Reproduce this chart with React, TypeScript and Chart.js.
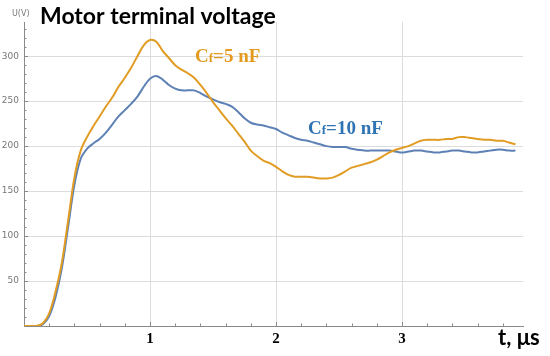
import React, { useEffect, useRef } from "react";
import { Chart, registerables } from "chart.js";

Chart.register(...registerables);

const timeUs = [
  0, 0.1, 0.15, 0.2, 0.25, 0.3, 0.35, 0.4, 0.45, 0.5, 0.55, 0.6, 0.65, 0.7, 0.75, 0.8, 0.85, 0.9, 0.95,
  1.0, 1.05, 1.1, 1.15, 1.2, 1.25, 1.3, 1.35, 1.4, 1.45, 1.5, 1.55, 1.6, 1.65, 1.7, 1.75, 1.8, 1.85, 1.9, 1.95,
  2.0, 2.05, 2.1, 2.15, 2.2, 2.25, 2.3, 2.35, 2.4, 2.45, 2.5, 2.55, 2.6, 2.65, 2.7, 2.75, 2.8, 2.85, 2.9, 2.95,
  3.0, 3.05, 3.1, 3.15, 3.2, 3.25, 3.3, 3.35, 3.4, 3.45, 3.5, 3.55, 3.6, 3.65, 3.7, 3.75, 3.8, 3.85, 3.9,
];

const cf5nF = [
  0, 0, 3, 14, 38, 70, 117, 165, 195, 210, 222, 233, 244, 254, 266, 276, 287, 300, 312,
  318, 316, 306, 298, 290, 285, 281, 276, 268, 259, 249, 240, 231, 223, 214, 205, 195, 189, 184, 181,
  177, 172, 168, 166, 166, 166, 165, 164, 164, 165, 168, 172, 176, 178, 180, 182, 185, 189, 193, 196,
  198, 200, 203, 206, 207, 207, 207, 208, 208, 210, 210, 209, 208, 207, 207, 206, 206, 204, 202,
];

const cf10nF = [
  0, 0, 2, 11, 32, 64, 110, 157, 186, 197, 203, 208, 215, 224, 233, 240, 247, 255, 266,
  275, 278, 274, 268, 264, 262, 262, 262, 259, 255, 252, 249, 247, 244, 238, 231, 226, 224, 223, 221,
  219, 215, 212, 209, 207, 206, 204, 202, 200, 199, 199, 199, 197, 196, 195, 195, 195, 195, 195, 194,
  193, 194, 195, 195, 194, 193, 193, 194, 195, 195, 194, 193, 193, 194, 195, 196, 196, 195, 195,
];

const yTickValues = [50, 100, 150, 200, 250, 300];
const xTickValues = [1, 2, 3];

const ORANGE = "#E19C24";
const BLUE = "#5E81B5";

const decorPlugin = {
  id: "decor",
  afterDraw(chart: any) {
    const ctx = chart.ctx;
    const xs = chart.scales.x;
    const ys = chart.scales.y;
    const area = chart.chartArea;
    ctx.save();
    ctx.strokeStyle = "#8a8a8a";
    ctx.lineWidth = 1;
    for (let v = 10; v <= 330; v += 10) {
      const py = Math.round(ys.getPixelForValue(v)) + 0.5;
      const major = v % 50 === 0;
      ctx.beginPath();
      ctx.moveTo(area.left, py);
      ctx.lineTo(area.left + (major ? 4 : 2.5), py);
      ctx.stroke();
    }
    for (let i = 1; i <= 19; i++) {
      const v = i * 0.2;
      const px = Math.round(xs.getPixelForValue(v)) + 0.5;
      const major = i % 5 === 0;
      ctx.beginPath();
      ctx.moveTo(px, area.bottom);
      ctx.lineTo(px, area.bottom - (major ? 4 : 2.5));
      ctx.stroke();
    }
    ctx.fillStyle = "#000";
    ctx.textBaseline = "alphabetic";
    ctx.textAlign = "left";
    ctx.font = "bold 23px Lato";
    ctx.fillText("Motor terminal voltage", 40, 24);
    ctx.fillStyle = "#777";
    ctx.font = "8px 'DejaVu Sans'";
    ctx.fillText("U(V)", 12, 16);
    ctx.fillStyle = "#000";
    ctx.font = "bold 22px Lato";
    ctx.fillText("t, \u03bcs", 498, 345);
    const drawCf = (x: number, y: number, rest: string, color: string) => {
      ctx.fillStyle = color;
      ctx.font = "bold 19px 'Liberation Serif'";
      ctx.fillText("C", x, y);
      let w = ctx.measureText("C").width;
      ctx.font = "bold 13px 'Liberation Serif'";
      ctx.fillText("f", x + w, y);
      w += ctx.measureText("f").width;
      ctx.font = "bold 19px 'Liberation Serif'";
      ctx.fillText(rest, x + w, y);
    };
    drawCf(195, 62, "=5 nF", "#E39A1E");
    drawCf(308, 134, "=10 nF", "#2E74B5");
    ctx.restore();
  },
};

export default function App() {
  const ref = useRef<HTMLCanvasElement | null>(null);
  useEffect(() => {
    document.body.style.margin = "0";
    const canvas = ref.current!;
    const chart = new Chart(canvas, {
      type: "line",
      data: {
        datasets: [
          {
            label: "Cf=5 nF",
            data: timeUs.map((t, i) => ({ x: t, y: cf5nF[i] })),
            borderColor: ORANGE,
            borderWidth: 2,
            pointRadius: 0,
            tension: 0.35,
            fill: false,
          },
          {
            label: "Cf=10 nF",
            data: timeUs.map((t, i) => ({ x: t, y: cf10nF[i] })),
            borderColor: BLUE,
            borderWidth: 2,
            pointRadius: 0,
            tension: 0.35,
            fill: false,
          },
        ],
      },
      options: {
        responsive: false,
        animation: false,
        layout: { padding: { top: 22, right: 27, left: 0, bottom: 0 } },
        plugins: { legend: { display: false }, tooltip: { enabled: false }, title: { display: false } },
        scales: {
          x: {
            type: "linear",
            min: 0,
            max: 3.96,
            afterBuildTicks: (s: any) => {
              s.ticks = [0, ...xTickValues].map((v) => ({ value: v }));
            },
            afterFit: (s: any) => {
              s.height = 30;
            },
            ticks: {
              autoSkip: false,
              maxRotation: 0,
              padding: 4,
              color: "#000",
              font: { family: "'Liberation Serif'", size: 15, weight: "bold" },
              callback: (v: any) => (v === 0 ? "" : String(v)),
            },
            grid: {
              drawTicks: false,
              color: (c: any) => (c.tick && c.tick.value > 0 ? "#dcdcdc" : "rgba(0,0,0,0)"),
              lineWidth: 1,
            },
            border: { color: "#8a8a8a", width: 1 },
          },
          y: {
            type: "linear",
            min: 0,
            max: 338,
            afterBuildTicks: (s: any) => {
              s.ticks = [0, ...yTickValues].map((v) => ({ value: v }));
            },
            afterFit: (s: any) => {
              s.width = 24;
            },
            ticks: {
              autoSkip: false,
              padding: 5,
              color: "#777",
              font: { family: "'DejaVu Sans'", size: 9 },
              callback: (v: any) => (v === 0 ? "" : String(v)),
            },
            grid: {
              drawTicks: false,
              color: (c: any) => (c.tick && c.tick.value > 0 ? "#dcdcdc" : "rgba(0,0,0,0)"),
              lineWidth: 1,
            },
            border: { color: "#8a8a8a", width: 1 },
          },
        },
      },
      plugins: [decorPlugin],
    } as any);
    return () => chart.destroy();
  }, []);
  return <canvas ref={ref} width={550} height={356} style={{ display: "block", width: 550, height: 356 }} />;
}
